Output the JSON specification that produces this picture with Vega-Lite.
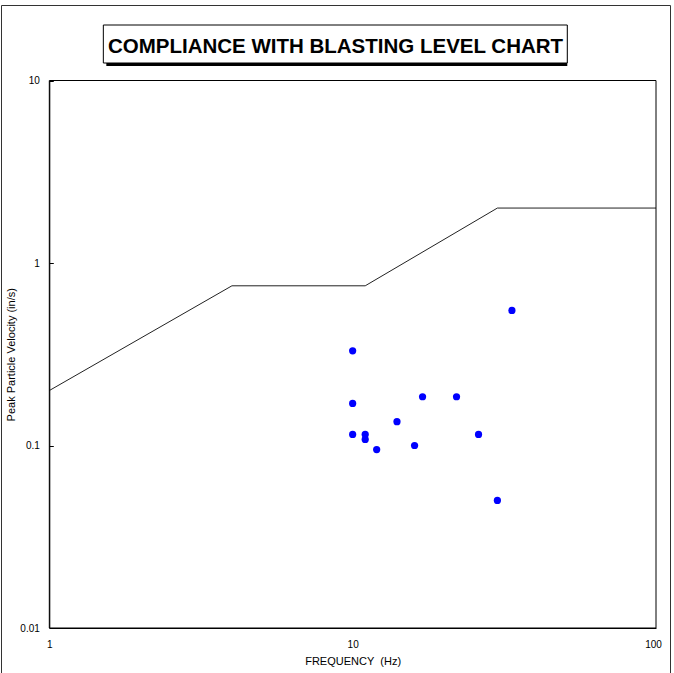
{
  "$schema": "https://vega.github.io/schema/vega-lite/v6.json",
  "width": 669,
  "height": 668,
  "autosize": {"type": "none"},
  "padding": {"left": 1, "top": 5, "right": 4, "bottom": 0},
  "background": "white",
  "config": {
    "view": {"stroke": "#333333", "strokeWidth": 1},
    "font": "Liberation Sans",
    "axis": {"grid": false, "domainColor": "black", "labelColor": "black", "titleColor": "black", "labelFont": "Liberation Sans", "titleFont": "Liberation Sans", "titleFontWeight": "normal"}
  },
  "title": {
    "text": "COMPLIANCE WITH BLASTING LEVEL CHART",
    "anchor": "middle",
    "frame": "group",
    "offset": -68.4,
    "baseline": "alphabetic",
    "fontSize": 20.5,
    "fontWeight": "bold",
    "font": "Liberation Sans",
    "color": "black"
  },
  "datasets": {
    "limit": [
      {"freq": 1, "ppv": 0.2},
      {"freq": 4, "ppv": 0.75},
      {"freq": 11, "ppv": 0.75},
      {"freq": 30, "ppv": 2.0},
      {"freq": 100, "ppv": 2.0}
    ],
    "blasts": [
      {"freq": 33.5, "ppv": 0.55},
      {"freq": 10, "ppv": 0.33},
      {"freq": 10, "ppv": 0.17},
      {"freq": 17, "ppv": 0.185},
      {"freq": 22, "ppv": 0.185},
      {"freq": 14, "ppv": 0.135},
      {"freq": 10, "ppv": 0.115},
      {"freq": 11, "ppv": 0.115},
      {"freq": 11, "ppv": 0.108},
      {"freq": 12, "ppv": 0.095},
      {"freq": 16, "ppv": 0.1},
      {"freq": 26, "ppv": 0.115},
      {"freq": 30, "ppv": 0.05}
    ],
    "one": [{}]
  },
  "layer": [
    {
      "data": {"name": "limit"},
      "mark": {"type": "line", "color": "#222222", "strokeWidth": 1},
      "encoding": {
        "x": {
          "field": "freq", "type": "quantitative",
          "scale": {"type": "log", "domain": [1, 100], "range": [48.3, 655], "nice": false},
          "axis": {
            "values": [1, 10, 100], "format": "~g", "ticks": false, "offset": -45,
            "labelFontSize": 10, "labelPadding": 11, "labelFlush": false, "labelOverlap": false,
            "labelOffset": {"condition": {"test": "datum.value == 100", "value": -3}, "value": 0},
            "title": "FREQUENCY\u00a0 (Hz)", "titleFontSize": 11, "titlePadding": 6
          }
        },
        "y": {
          "field": "ppv", "type": "quantitative",
          "scale": {"type": "log", "domain": [0.01, 10], "range": [623, 75.5], "nice": false},
          "axis": {
            "values": [0.01, 0.1, 1, 10], "format": "~g", "tickSize": -4, "tickColor": "black", "tickWidth": 1, "offset": -48.3,
            "labelFontSize": 10, "labelPadding": 14, "labelFlush": false, "labelOverlap": false,
            "title": "Peak Particle Velocity (in/s)", "titleFontSize": 11, "titlePadding": 3
          }
        }
      }
    },
    {
      "data": {"name": "blasts"},
      "mark": {"type": "point", "filled": true, "color": "#0000FF", "size": 52, "opacity": 1},
      "encoding": {
        "x": {"field": "freq", "type": "quantitative"},
        "y": {"field": "ppv", "type": "quantitative"}
      }
    },
    {
      "data": {"name": "one"},
      "mark": {"type": "rect", "fill": null, "fillOpacity": 0, "stroke": "black", "strokeWidth": 1},
      "encoding": {
        "x": {"datum": 1, "type": "quantitative"},
        "x2": {"datum": 100},
        "y": {"datum": 0.01, "type": "quantitative"},
        "y2": {"datum": 10}
      }
    },
    {
      "data": {"name": "one"},
      "mark": {"type": "rect", "fill": "black", "xOffset": 3, "yOffset": 3},
      "encoding": {
        "x": {"datum": 1.507, "type": "quantitative"},
        "x2": {"datum": 51.0},
        "y": {"datum": 12.47, "type": "quantitative"},
        "y2": {"datum": 20.14}
      }
    },
    {
      "data": {"name": "one"},
      "mark": {"type": "rect", "fill": "white", "stroke": "black", "strokeWidth": 1},
      "encoding": {
        "x": {"datum": 1.507, "type": "quantitative"},
        "x2": {"datum": 51.0},
        "y": {"datum": 12.47, "type": "quantitative"},
        "y2": {"datum": 20.14}
      }
    }
  ]
}
